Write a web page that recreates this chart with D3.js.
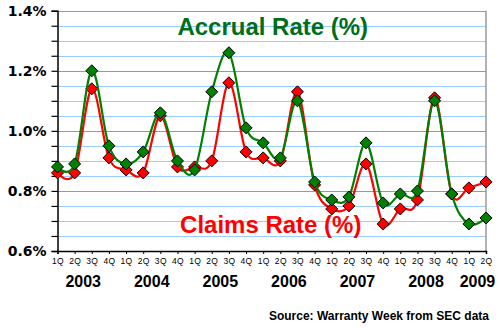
<!DOCTYPE html>
<html>
<head>
<meta charset="utf-8">
<script src="https://cdn.jsdelivr.net/npm/d3@7"></script>
<style>
  html, body { margin: 0; padding: 0; background: #fff; }
  svg { display: block; }
</style>
</head>
<body>
<svg id="chart" width="500" height="328"></svg>
<script>
const quarters = ["1Q","2Q","3Q","4Q","1Q","2Q","3Q","4Q","1Q","2Q","3Q","4Q","1Q","2Q","3Q","4Q","1Q","2Q","3Q","4Q","1Q","2Q","3Q","4Q","1Q","2Q"];
const years = ["2003","2004","2005","2006","2007","2008","2009"];
const yearStartIndex = [0, 4, 8, 12, 16, 20, 24];
const accrualRate = [0.88,0.89,1.20,0.95,0.89,0.93,1.06,0.90,0.87,1.13,1.26,1.01,0.96,0.91,1.10,0.83,0.77,0.78,0.96,0.76,0.79,0.80,1.10,0.79,0.69,0.71];
const claimsRate  = [0.86,0.86,1.14,0.91,0.87,0.86,1.05,0.88,0.88,0.90,1.16,0.93,0.91,0.90,1.13,0.82,0.74,0.75,0.89,0.69,0.74,0.77,1.11,0.79,0.81,0.83];
const yTicks = [0.6, 0.8, 1.0, 1.2, 1.4];
const yMinor = [0.65,0.7,0.75,0.85,0.9,0.95,1.05,1.1,1.15,1.25,1.3,1.35];

const svg = d3.select("#chart");
const pL = 57.5, pR = 486, pT = 10.7, pB = 251;

const x = d3.scaleLinear().domain([0, quarters.length - 1]).range([pL, pR]);
const y = d3.scaleLinear().domain([0.6, 1.4]).range([pB, pT]);

// minor gridlines
svg.append("g").selectAll("line").data(yMinor).join("line")
  .attr("x1", pL).attr("x2", pR)
  .attr("y1", d => Math.round(y(d)) + 0.5).attr("y2", d => Math.round(y(d)) + 0.5)
  .attr("stroke", "#99CCFF").attr("stroke-width", 1);
// major gridlines
svg.append("g").selectAll("line").data(yTicks.filter(d => d > 0.6)).join("line")
  .attr("x1", pL).attr("x2", pR)
  .attr("y1", d => Math.round(y(d)) + 0.5).attr("y2", d => Math.round(y(d)) + 0.5)
  .attr("stroke", "#999999").attr("stroke-width", 1);

// right border (gray)
svg.append("line").attr("x1", pR).attr("x2", pR).attr("y1", pT).attr("y2", pB)
  .attr("stroke", "#999999").attr("stroke-width", 1.5);

// Y axis
const yAxis = d3.axisLeft(y).tickValues(yTicks.concat(yMinor)).tickSize(6)
  .tickFormat(d => yTicks.some(t => Math.abs(t - d) < 1e-9) ? d3.format(".1f")(d) + "%" : "");
const gy = svg.append("g").attr("transform", `translate(${pL},0)`).call(yAxis);
gy.select(".domain").attr("stroke", "#000").attr("stroke-width", 1.5);
gy.selectAll(".tick line").attr("stroke", "#000").attr("stroke-width", 1.2);
gy.selectAll(".tick text")
  .attr("x", -11)
  .attr("font-family", "'DejaVu Sans', Verdana, sans-serif")
  .attr("font-weight", "bold").attr("font-size", 14).attr("fill", "#000");

// X axis
const xAxis = d3.axisBottom(x).tickValues(d3.range(quarters.length)).tickSize(3)
  .tickFormat(i => quarters[i]);
const gx = svg.append("g").attr("transform", `translate(0,${pB})`).call(xAxis);
gx.select(".domain").attr("stroke", "#000").attr("stroke-width", 1.5);
gx.selectAll(".tick line").attr("stroke", "#000");
gx.selectAll(".tick text")
  .attr("y", 7)
  .attr("font-family", "'Liberation Sans', Arial, sans-serif")
  .attr("font-size", 8.5).attr("fill", "#000").attr("letter-spacing", 0.3);

// year labels
svg.append("g").selectAll("text").data(years).join("text")
  .attr("x", (d, i) => {
    const s = yearStartIndex[i];
    const e = Math.min(s + 3, quarters.length - 1);
    return (x(s) + x(e)) / 2;
  })
  .attr("y", 287)
  .attr("text-anchor", "middle")
  .attr("font-family", "'Liberation Sans', Arial, sans-serif")
  .attr("font-weight", "bold").attr("font-size", 16).attr("fill", "#000")
  .text(d => d);

// series
const line = d3.line().x((d, i) => x(i)).y(d => y(d)).curve(d3.curveCatmullRom.alpha(0));
const diamond = (s) => `M0,${-s}L${s},0L0,${s}L${-s},0Z`;

function drawSeries(data, color) {
  const g = svg.append("g");
  g.append("path").datum(data).attr("d", line)
    .attr("fill", "none").attr("stroke", color).attr("stroke-width", 2.2);
  g.selectAll("path.m").data(data).join("path").attr("class", "m")
    .attr("transform", (d, i) => `translate(${x(i)},${y(d)})`)
    .attr("d", diamond(6))
    .attr("fill", color).attr("stroke", "#000").attr("stroke-width", 1);
}
drawSeries(claimsRate, "#FF0000");
drawSeries(accrualRate, "#008000");

// series titles
svg.append("text").attr("x", (pL + pR) / 2 + 1).attr("y", 35)
  .attr("text-anchor", "middle")
  .attr("font-family", "'Liberation Sans', Arial, sans-serif")
  .attr("font-weight", "bold").attr("font-size", 24).attr("fill", "#006E1A")
  .text("Accrual Rate (%)");
svg.append("text").attr("x", (pL + pR) / 2 - 1).attr("y", 233)
  .attr("text-anchor", "middle")
  .attr("font-family", "'Liberation Sans', Arial, sans-serif")
  .attr("font-weight", "bold").attr("font-size", 24).attr("fill", "#FF0000")
  .text("Claims Rate (%)");

// source
svg.append("text").attr("x", 489).attr("y", 320)
  .attr("text-anchor", "end")
  .attr("font-family", "'Liberation Sans', Arial, sans-serif")
  .attr("font-weight", "bold").attr("font-size", 12).attr("fill", "#000")
  .text("Source: Warranty Week from SEC data");
</script>
</body>
</html>
